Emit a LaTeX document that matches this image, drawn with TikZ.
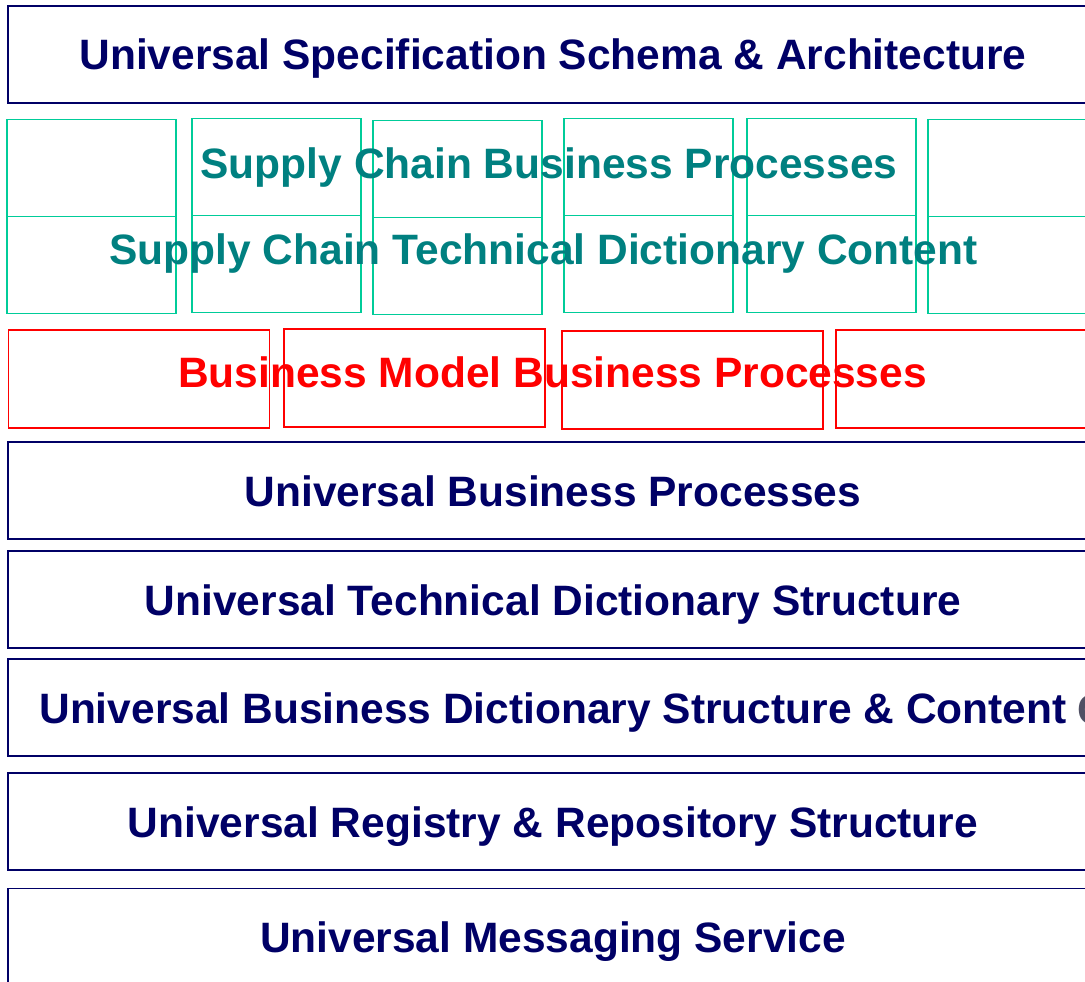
\documentclass[tikz,border=0pt]{standalone}
\usepackage{fontspec}
\setmainfont{Liberation Sans}
\usepackage{xcolor}
\usepackage{tikz}
\definecolor{layernavy}{RGB}{0, 0, 102}
\definecolor{scteal}{RGB}{0, 128, 128}
\definecolor{sclines}{RGB}{0, 204, 153}
\definecolor{bmred}{RGB}{255, 0, 0}
\definecolor{cutgrey}{RGB}{80, 80, 100}
\usetikzlibrary{positioning}

\begin{document}
\begin{tikzpicture}[x=1pt, y=-1pt,
    layer/.style={rectangle, draw=layernavy, line width=1.5pt, minimum width=1090pt, minimum height=97pt, text=layernavy, font=\fontsize{42.5}{50}\selectfont\bfseries, text height=31pt, text depth=0pt},
    sccell/.style={rectangle, draw=sclines, line width=1.5pt, minimum width=169pt, minimum height=97pt},
    bmcell/.style={rectangle, draw=bmred, line width=1.5pt, minimum width=261pt, minimum height=98pt},
    overtext/.style={inner sep=0pt, font=\fontsize{42.5}{50}\selectfont\bfseries, text height=31pt, text depth=0pt}
]
    \useasboundingbox (0,0) rectangle (1085,982);
    \clip (0,0) rectangle (1085,982);

    % Top layer
    \node[layer] (usa) at (553, 54.5) {Universal Specification Schema \& Architecture};

    % Supply chain cells
    \foreach \cx/\cy [count=\i] in {91.5/168, 276.5/167, 457.5/169, 648.5/167, 831.5/167, 1012.5/168} {
        \node[sccell] (bp\i) at (\cx, \cy) {};
        \node[sccell] (dc\i) at (\cx, \cy+97) {};
    }
    \node[overtext, text=scteal] (scbp) at (549, 163) {Supply Chain Business Processes};
    \node[overtext, text=scteal] (sctdc) at (543.5, 249) {Supply Chain Technical Dictionary Content};

    % Business model cells
    \foreach \cx/\cy [count=\i] in {139/379, 414.5/378, 692.5/380, 966.5/379} {
        \node[bmcell] (bm\i) at (\cx, \cy) {};
    }
    \node[overtext, text=bmred] (bmbp) at (552.5, 371.5) {Business Model Business Processes};

    % Universal layers
    \node[layer] (ubp) at (553, 490.5) {Universal Business Processes};
    \node[layer] (utds) at (553, 599.5) {Universal Technical Dictionary Structure};
    \node[layer] (ubds) at (553, 707.5) {Universal Business Dictionary Structure \& Content};
    \node[overtext, text=cutgrey, anchor=west] (cut) at (1077, 709) {C};
    \node[layer] (urr) at (553, 821.5) {Universal Registry \& Repository Structure};
    \node[layer] (ums) at (553, 937) {Universal Messaging Service};
\end{tikzpicture}
\end{document}
